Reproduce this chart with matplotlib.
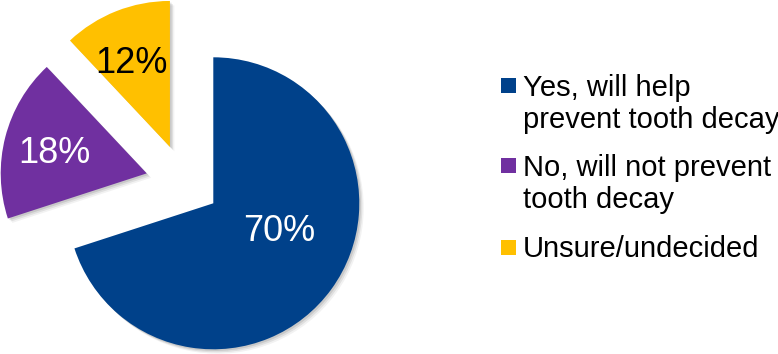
import matplotlib
matplotlib.use("Agg")
import numpy as np
import matplotlib.pyplot as plt
import matplotlib.patheffects as pe
from matplotlib.patches import Rectangle

# Survey answers
categories = ["Yes, will help\nprevent tooth decay",
              "No, will not prevent\ntooth decay",
              "Unsure/undecided"]
shares = [70, 18, 12]

# Styling
colors = ["#00418A", "#7030A0", "#FFC000"]
label_colors = ["white", "white", "black"]
explode_dist = [0.0, 0.50, 0.487]      # in pie radii
explode_dir = [0.0, 155.8, 127.6]      # degrees
label_radius = [0.48, 0.65, 0.65]
label_turn = [15.4, 0.0, 2.0]          # degrees added to the wedge mid-angle

W, H, DPI = 778, 354, 100
R_PX = 146.0                 # pie radius in pixels
CX, CY = 213.3, 203.3        # pie centre, pixels from top-left

plt.rcParams["font.family"] = ["Liberation Sans", "DejaVu Sans"]

fig = plt.figure(figsize=(W / DPI, H / DPI), dpi=DPI)
ax = fig.add_axes([0, 0, 1, 1])

wedges, _ = ax.pie(shares, colors=colors, startangle=90, counterclock=False,
                   radius=1.0)

shadow = [pe.SimplePatchShadow(offset=(1.2, -1.2), shadow_rgbFace="k", alpha=0.10),
          pe.SimplePatchShadow(offset=(2.2, -2.2), shadow_rgbFace="k", alpha=0.08),
          pe.SimplePatchShadow(offset=(3.2, -3.2), shadow_rgbFace="k", alpha=0.05),
          pe.Normal()]

cap_units = 26 * DPI / 72 * 0.716 / R_PX   # cap height of the value labels

for i, w in enumerate(wedges):
    a = np.deg2rad(explode_dir[i])
    cx, cy = explode_dist[i] * np.cos(a), explode_dist[i] * np.sin(a)
    w.set_center((cx, cy))
    w.set_path_effects(shadow)
    mid = np.deg2rad((w.theta1 + w.theta2) / 2 + label_turn[i])
    lx = cx + label_radius[i] * np.cos(mid)
    ly = cy + label_radius[i] * np.sin(mid) - cap_units / 2
    ax.text(lx, ly, f"{shares[i]}%", ha="center", va="baseline",
            fontsize=26, color=label_colors[i])

ax.set_xlim(-CX / R_PX, (W - CX) / R_PX)
ax.set_ylim(-(H - CY) / R_PX, CY / R_PX)
ax.set_aspect("auto")
ax.axis("off")

# Legend, laid out in pixel positions
sq_x, sq_size = 500.5, 15
text_x = 523
sq_tops = [78, 158, 240]
first_baselines = [96, 176, 257]
line_px = 32
for i, lab in enumerate(categories):
    fig.patches.append(Rectangle((sq_x / W, 1 - (sq_tops[i] + sq_size) / H),
                                 sq_size / W, sq_size / H,
                                 transform=fig.transFigure, facecolor=colors[i],
                                 edgecolor="none"))
    for k, line in enumerate(lab.split("\n")):
        y = first_baselines[i] + k * line_px
        fig.text(text_x / W, 1 - y / H, line, ha="left", va="baseline",
                 fontsize=21, color="black")

fig.savefig("out.png", dpi=DPI)
